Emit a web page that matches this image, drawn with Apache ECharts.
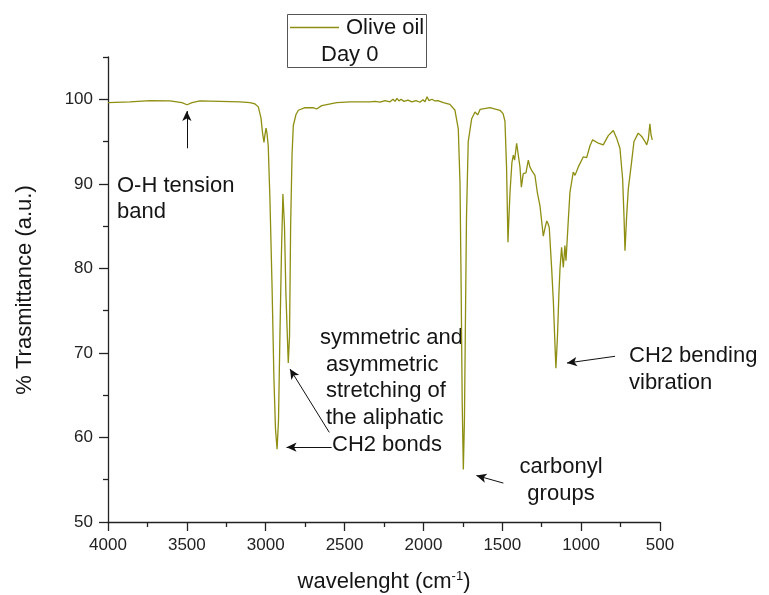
<!DOCTYPE html>
<html>
<head>
<meta charset="utf-8">
<script src="https://cdn.jsdelivr.net/npm/echarts@6/dist/echarts.min.js"></script>
<style>html,body{margin:0;padding:0;background:#fff;}#c{width:769px;height:595px;}</style>
</head>
<body>
<div id="c"></div>
<script>
// wavenumber (cm-1)
const wavenumbers = [4000,3860,3734,3607,3531,3499,3467,3417,3290,3163,
3100,3068,3047,3030,3020,3011,3005,2998,2992,2984,
2973,2960,2948,2938,2928,2919,2910,2900,2891,2881,
2872,2857,2849,2842,2833,2825,2808,2793,2751,2700,
2677,2645,2550,2465,2339,2307,2275,2244,2212,2193,
2180,2168,2155,2142,2123,2098,2073,2047,2022,2003,
1990,1977,1965,1946,1927,1908,1874,1832,1800,1779,
1768,1761,1754,1747,1740,1733,1727,1716,1694,1673,
1656,1641,1578,1515,1495,1483,1473,1464,1458,1451,
1439,1430,1422,1409,1398,1388,1379,1367,1350,1335,
1325,1314,1293,1278,1261,1240,1229,1218,1210,1202,
1187,1176,1166,1160,1150,1141,1134,1124,1113,1103,1096,1082,1071,1050,1039,1018,986,965,944,
927,891,860,828,796,775,754,737,728,722,
712,701,680,665,638,616,595,584,574,564,
557,549];
// % transmittance
const transmittance = [99.6,99.7,99.85,99.8,99.6,99.35,99.6,99.8,99.75,99.7,
99.6,99.45,99.1,97.8,96.0,94.9,95.8,96.6,96.0,94.5,
88,78,67,61,58.6,62,72,82,88.8,85,
77,68.8,72,85,93.5,96.9,98.2,98.7,99.0,99.0,
98.85,99.25,99.6,99.7,99.7,99.75,99.65,99.85,99.7,100.0,
99.75,100.1,99.8,100.0,99.75,99.9,99.7,99.85,99.65,99.95,
99.7,100.3,99.85,100.0,99.8,99.85,99.6,99.4,98.7,96.5,
90,78,64,56.2,62,75,86,95.0,97.7,98.5,
98.15,98.8,99.0,98.7,98.3,97.4,92,83.1,86,89.0,
92.5,93.4,92.8,94.8,94.6,92,89.6,91.2,91.3,92.8,
92.0,91.6,91.0,89.0,87.4,83.8,84.8,85.6,85.3,84.8,
80,76,71,68.2,72,77,80.0,82.5,80.1,82.7,80.9,85.5,89.0,91.4,91.0,92.0,93.2,93.1,94.5,
95.2,94.8,94.6,95.7,96.3,95.4,94.2,90.6,86,82.1,
86,89.4,92.6,95.0,96.0,95.6,95.0,94.6,95.3,97.1,
95.8,95.2];
const seriesName = 'Olive oil';
const legendSub = 'Day 0';
const yMajorTicks = [50,60,70,80,90,100];
const yMinorTicks = [55,65,75,85,95,105];
const xTicks = [4000,3500,3000,2500,2000,1500,1000,500];

const FONT = '"Liberation Sans", Arial, sans-serif';
const LINE = '#8e8e12';
const INK = '#151515';

const chart = echarts.init(document.getElementById('c'), null, {renderer: 'canvas'});

const data = wavenumbers.map((w, i) => [w, transmittance[i]]);

function txt(text, x, y, align) {
  return {type: 'text', x: x, y: y, silent: true,
    style: {text: text, fill: INK, font: '22px ' + FONT, textAlign: align || 'left', textVerticalAlign: 'middle'}};
}

const option = {
  animation: false,
  backgroundColor: '#fff',
  grid: {left: 108, right: 109, top: 57, bottom: 73, containLabel: false},
  xAxis: {
    type: 'value', min: 500, max: 4000, interval: 500, inverse: true,
    axisLine: {show: true, lineStyle: {color: '#222', width: 1.3}},
    axisTick: {show: true, inside: false, length: 9, lineStyle: {color: '#222', width: 1.3}, customValues: xTicks},
    minorTick: {show: true, splitNumber: 2, length: 5, lineStyle: {color: '#222', width: 1.3}},
    axisLabel: {fontSize: 17, color: '#222', fontFamily: FONT, margin: 15, customValues: xTicks,
      formatter: function (v) { return String(v); }},
    splitLine: {show: false}
  },
  yAxis: [{
    type: 'value', min: 50, max: 105, interval: 10, position: 'left',
    axisLine: {show: true, lineStyle: {color: '#222', width: 1.3}},
    axisTick: {show: true, inside: false, length: 9, lineStyle: {color: '#222', width: 1.3}, customValues: yMajorTicks},
    axisLabel: {fontSize: 17, color: '#222', fontFamily: FONT, margin: 15, customValues: yMajorTicks,
      formatter: function (v) { return String(v); }},
    splitLine: {show: false}
  }, {
    type: 'value', min: 50, max: 105, interval: 5, position: 'left', offset: 0,
    axisLine: {show: false},
    axisTick: {show: true, inside: false, length: 5, lineStyle: {color: '#222', width: 1.3}, customValues: yMinorTicks},
    axisLabel: {show: false},
    splitLine: {show: false}
  }],
  series: [{
    name: seriesName, type: 'line', data: data, yAxisIndex: 0,
    showSymbol: false, symbol: 'none', smooth: false,
    lineStyle: {color: LINE, width: 1.3},
    markLine: {
      silent: true, symbol: ['none', 'arrow'], symbolSize: [7, 10],
      label: {show: false},
      lineStyle: {color: '#111', width: 1, type: 'solid'},
      data: [
        [{coord: [3500, 94.2]}, {coord: [3500, 98.6]}],
        [{coord: [2597, 60.6]}, {coord: [2846, 68.1]}],
        [{coord: [2582, 58.85]}, {coord: [2868, 58.85]}],
        [{coord: [1493, 54.6]}, {coord: [1664, 55.5]}],
        [{coord: [785, 69.6]}, {coord: [1090, 68.8]}]
      ]
    }
  }],
  graphic: [
    {type: 'rect', silent: true, shape: {x: 287.5, y: 14.5, width: 139, height: 53},
      style: {fill: '#fff', stroke: '#555', lineWidth: 1}},
    {type: 'line', silent: true, shape: {x1: 290, y1: 27.5, x2: 339, y2: 27.5},
      style: {stroke: LINE, lineWidth: 1.3}},
    txt(seriesName, 346, 28),
    txt(legendSub, 321, 55),
    txt('O-H tension', 117, 186),
    txt('band', 117, 212),
    txt('symmetric and', 320, 338),
    txt('asymmetric', 326, 365),
    txt('stretching of', 326, 391),
    txt('the aliphatic', 326, 418),
    txt('CH2 bonds', 332, 445),
    txt('carbonyl', 561, 467, 'center'),
    txt('groups', 561, 494, 'center'),
    txt('CH2 bending', 629, 356),
    txt('vibration', 629, 383),
    {type: 'text', silent: true, x: 25, y: 290, rotation: Math.PI / 2,
      style: {text: '% Trasmittance (a.u.)', fill: INK, font: '22px ' + FONT, textAlign: 'center', textVerticalAlign: 'middle'}},
    {type: 'text', silent: true, x: 384, y: 582,
      style: {text: 'wavelenght (cm{sup|-1})', fill: INK, font: '22px ' + FONT, textAlign: 'center', textVerticalAlign: 'middle',
        rich: {sup: {fontSize: 13, fontFamily: FONT, fill: INK, padding: [0, 0, 12, 0]}}}}
  ]
};
chart.setOption(option);
</script>
</body>
</html>
